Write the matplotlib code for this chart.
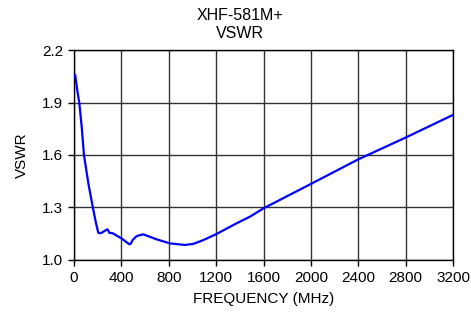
import matplotlib
matplotlib.use("Agg")
import matplotlib.pyplot as plt

plt.rcParams['font.family'] = ['Liberation Sans', 'DejaVu Sans']

freq_mhz = [10, 28, 45, 65, 84, 121, 158, 186, 205, 220, 234, 260, 281, 290,
            298, 327, 402, 467, 478, 495, 529, 585, 698, 810, 937, 1007, 1092,
            1204, 1372, 1485, 1600, 2000, 2400, 2800, 3200]
vswr = [2.059, 1.97, 1.897, 1.762, 1.60, 1.438, 1.303, 1.208, 1.154, 1.151,
        1.154, 1.165, 1.174, 1.165, 1.154, 1.151, 1.121, 1.088, 1.090, 1.112,
        1.135, 1.145, 1.116, 1.093, 1.084, 1.090, 1.112, 1.147, 1.208, 1.246,
        1.294, 1.434, 1.575, 1.70, 1.83]

x_ticks = [0, 400, 800, 1200, 1600, 2000, 2400, 2800, 3200]
y_ticks = [1.0, 1.3, 1.6, 1.9, 2.2]
y_tick_labels = ["1.0", "1.3", "1.6", "1.9", "2.2"]

fig = plt.figure(figsize=(4.71, 3.13), dpi=100)
ax = fig.add_axes([74/471, 1-259.6/313, (453-74)/471, (259.6-50.4)/313])

ax.plot(freq_mhz, vswr, color='#0000ff', lw=1.6, zorder=3,
        solid_joinstyle='round')

ax.set_xlim(0, 3200)
ax.set_ylim(1.0, 2.2)
ax.set_xticks(x_ticks)
ax.set_yticks(y_ticks)
ax.set_yticklabels(y_tick_labels)
ax.grid(True, color='#333333', lw=1.0)
ax.tick_params(direction='out', length=4, width=1, labelsize=11, pad=4, color='black')
for s in ax.spines.values():
    s.set_color('black')
    s.set_linewidth(1.0)

ax.set_xlabel("FREQUENCY (MHz)", fontsize=11, labelpad=5)
ax.set_ylabel("VSWR", fontsize=11, labelpad=9)

fig.text(240/471, 1-16/313, "XHF-581M+", ha='center', va='center', fontsize=11.5)
fig.text(240/471, 1-33/313, "VSWR", ha='center', va='center', fontsize=11.5)

fig.savefig("out.png", dpi=100, facecolor='white')
